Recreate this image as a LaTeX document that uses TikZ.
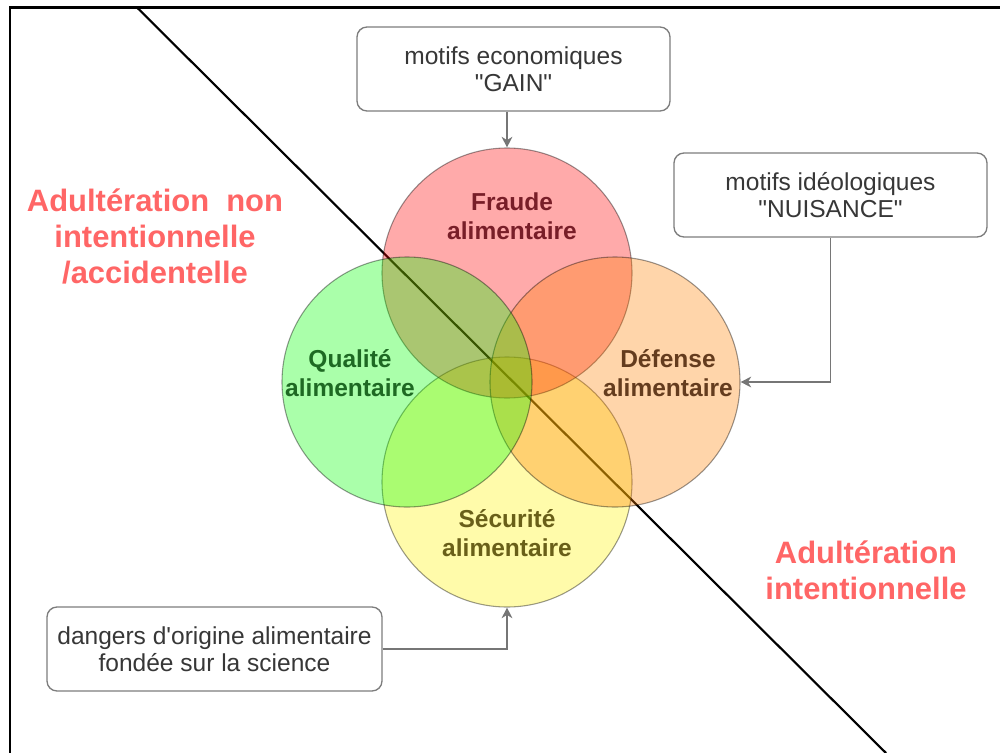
\documentclass[tikz,border=0pt]{standalone}
\usepackage{fontspec}
\newfontfamily\lsans{Liberation Sans}
\usetikzlibrary{arrows.meta}

\definecolor{boxline}{RGB}{125,125,125}
\definecolor{flowgrey}{RGB}{118,118,118}
\definecolor{boxtext}{RGB}{55,55,55}
\definecolor{redlabel}{RGB}{255,102,102}
\definecolor{fraudetxt}{RGB}{120,30,40}
\definecolor{qualtxt}{RGB}{30,105,35}
\definecolor{deftxt}{RGB}{100,60,30}
\definecolor{sectxt}{RGB}{105,95,25}

\begin{document}
\begin{tikzpicture}[x=0.75pt,y=-0.75pt,
  venn/.style={circle, minimum size=187.5pt, inner sep=0pt,
    draw=black, draw opacity=0.4, line width=0.8pt, fill opacity=0.333},
  vlabel/.style={align=center, inner sep=0pt,
    font=\lsans\fontsize{18.4}{21.75}\selectfont\bfseries},
  motif/.style={draw=boxline, line width=1pt, rounded corners=7.5pt,
    fill=white, align=center, text=boxtext, minimum height=63pt,
    inner sep=0pt, font=\lsans\fontsize{18.4}{20.25}\selectfont},
  flow/.style={draw=flowgrey, line width=1.2pt,
    -{Stealth[length=8pt,width=8pt,inset=2.5pt,fill=flowgrey]}},
  redtext/.style={text=redlabel, align=center, inner sep=0pt,
    font=\lsans\fontsize{23.2}{27}\selectfont\bfseries},
  frame/.style={line width=1.8pt, draw=black}
]
\useasboundingbox (0,0) rectangle (1000,753);

% open frame (top and left edges)
\coordinate (ftopright) at (1000,7.5);
\coordinate (fcorner) at (10,7.5);
\coordinate (fbotleft) at (10,753);
\draw[frame] (ftopright) -- (fcorner) -- (fbotleft);

% dividing diagonal
\coordinate (dtop) at (137,7.5);
\coordinate (dbot) at (886,753);
\draw[line width=1.6pt] (dtop) -- (dbot);

% the four overlapping circles
\node[venn, fill=yellow] (sec) at (507,482) {};
\node[venn, fill=red] (fraude) at (507,273) {};
\node[venn, fill={rgb,255:red,255;green,128;blue,0}] (def) at (615,382) {};
\node[venn, fill={rgb,255:red,0;green,255;blue,0}] (qual) at (407,382) {};

% circle labels
\node[vlabel, text=fraudetxt] (lfraude) at (512,216) {Fraude\\alimentaire};
\node[vlabel, text=qualtxt] (lqual) at (350,373) {Qualité\\alimentaire};
\node[vlabel, text=deftxt] (ldef) at (668,373) {Défense\\alimentaire};
\node[vlabel, text=sectxt] (lsec) at (507,533) {Sécurité\\alimentaire};

% motive boxes
\node[motif, minimum width=234.75pt] (gain) at (513.5,69)
  {motifs economiques\\"GAIN"};
\node[motif, minimum width=234.75pt] (nuis) at (830.5,195)
  {motifs idéologiques\\"NUISANCE"};
\node[motif, minimum width=251.25pt] (dang) at (214.5,649)
  {dangers d'origine alimentaire\\fondée sur la science};

% connectors
\draw[flow] (gain.south -| fraude.north) -- (fraude.north);
\draw[flow] (nuis.south) |- (def.east);
\draw[flow] (dang.east) -| (sec.south);

% side labels
\node[redtext] (nonint) at (155,236)
  {Adultération\ \ non\\intentionnelle\\/accidentelle};
\node[redtext] (intent) at (866,570) {Adultération\\intentionnelle};
\end{tikzpicture}
\end{document}
